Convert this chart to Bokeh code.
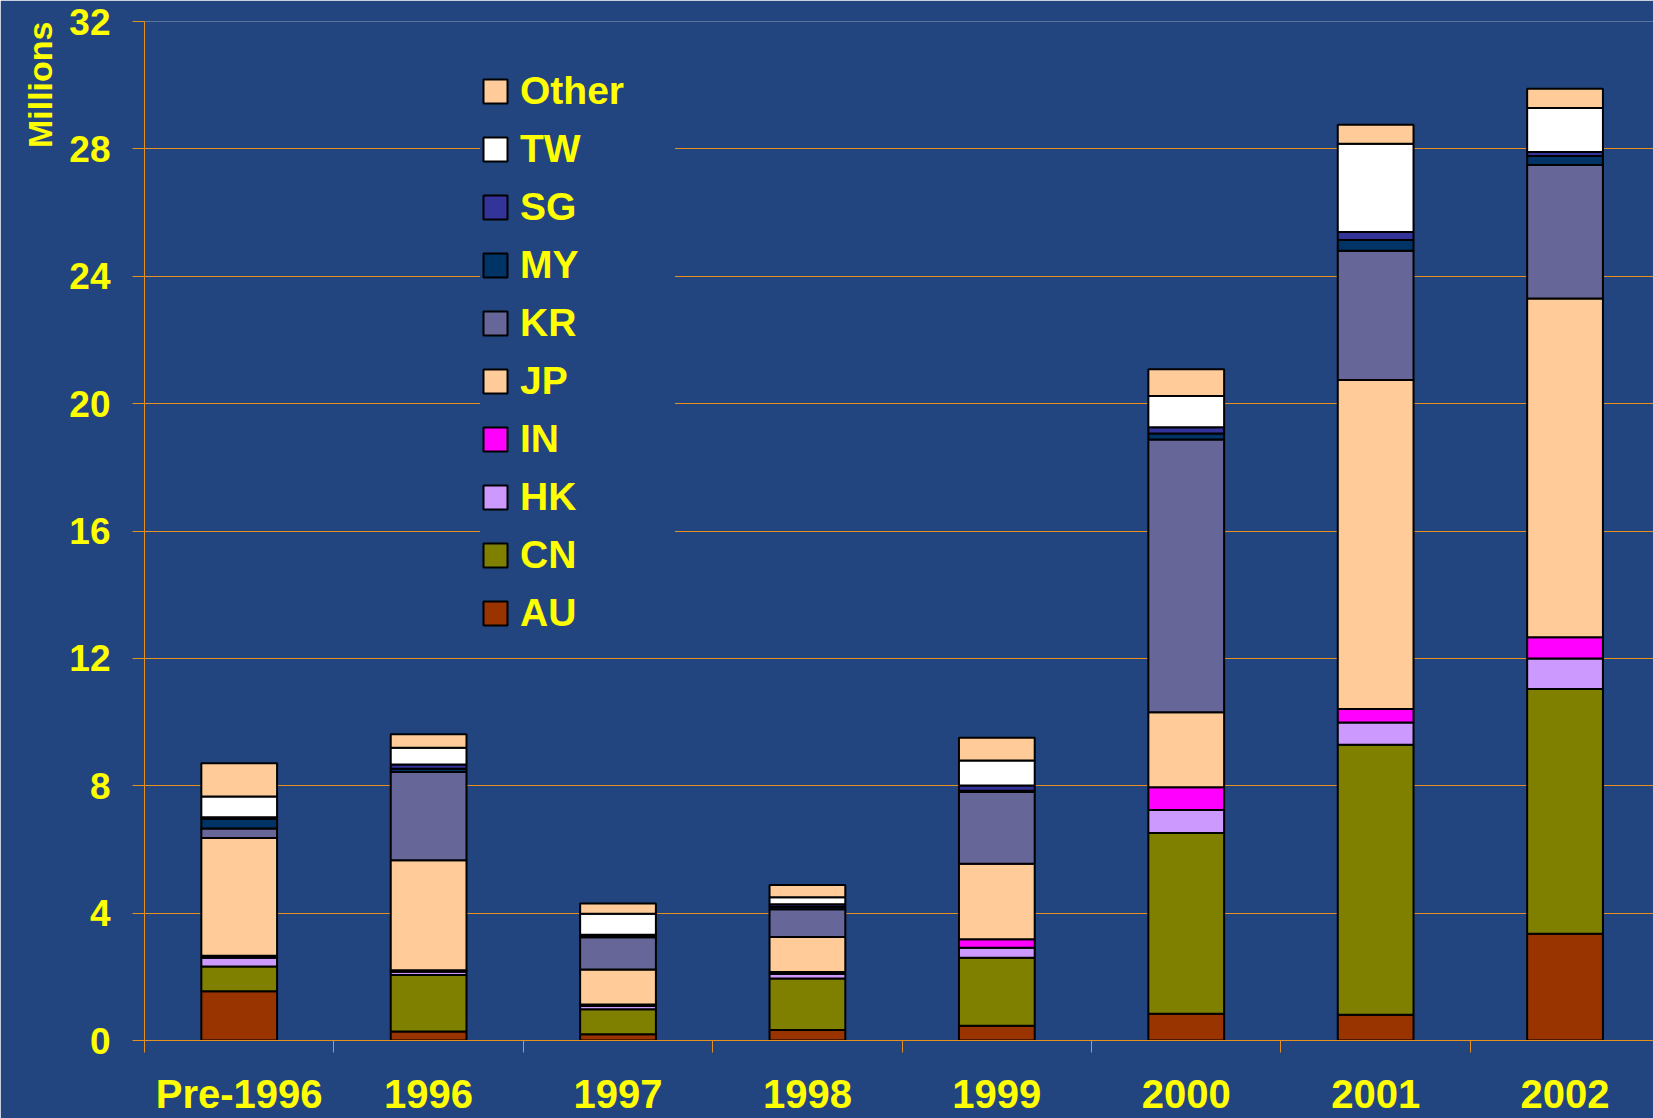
from bokeh.plotting import figure
from bokeh.models import Range1d, FixedTicker, Legend, LegendItem, Title, ColumnDataSource
from bokeh.embed import file_html
from bokeh.resources import INLINE

# ---- data (millions) ----
categories = ["Pre-1996", "1996", "1997", "1998", "1999", "2000", "2001", "2002"]
AU = [1.55, 0.28, 0.20, 0.33, 0.46, 0.84, 0.81, 3.35]
CN = [0.77, 1.78, 0.78, 1.62, 2.14, 5.68, 8.48, 7.69]
HK = [0.28, 0.10, 0.10, 0.14, 0.31, 0.72, 0.70, 0.96]
IN = [0.06, 0.05, 0.05, 0.06, 0.27, 0.71, 0.42, 0.66]
JP = [3.70, 3.45, 1.10, 1.10, 2.37, 2.36, 10.33, 10.64]
KR = [0.30, 2.77, 1.01, 0.87, 2.25, 8.56, 4.06, 4.19]
MY = [0.30, 0.10, 0.04, 0.08, 0.04, 0.19, 0.34, 0.29]
SG = [0.05, 0.14, 0.04, 0.08, 0.17, 0.20, 0.25, 0.12]
TW = [0.65, 0.52, 0.66, 0.22, 0.78, 0.98, 2.77, 1.38]
Other = [1.05, 0.43, 0.32, 0.38, 0.72, 0.84, 0.60, 0.61]

series_names = ["AU", "CN", "HK", "IN", "JP", "KR", "MY", "SG", "TW", "Other"]
series_values = [AU, CN, HK, IN, JP, KR, MY, SG, TW, Other]
series_colors = ["#993300", "#808000", "#CC99FF", "#FF00FF", "#FFCC99",
                 "#666699", "#003366", "#333399", "#FFFFFF", "#FFCC99"]
y_ticks = list(range(0, 33, 4))

BG = "#22447F"
YELLOW = "#FFFF00"
ORANGE = "#E8901E"
FONT = "Liberation Sans"

xs = list(range(len(categories)))
data = {"x": xs}
for n, v in zip(series_names, series_values):
    data[n] = v
src = ColumnDataSource(data)

p = figure(width=1653, height=1118, output_backend="svg", toolbar_location=None,
           x_range=Range1d(-0.5, 7.467), y_range=Range1d(0, 32),
           min_border_left=144, min_border_right=0, min_border_top=21, min_border_bottom=78)
p.background_fill_color = BG
p.border_fill_color = BG
p.outline_line_color = None

renderers = p.vbar_stack(series_names, x="x", width=0.4, source=src,
                         fill_color=series_colors, line_color="black", line_width=2)

# y axis
p.yaxis.ticker = FixedTicker(ticks=y_ticks)
p.yaxis.axis_line_color = ORANGE
p.yaxis.major_tick_line_color = ORANGE
p.yaxis.major_tick_out = 12
p.yaxis.major_tick_in = 0
p.yaxis.minor_tick_line_color = None
p.yaxis.major_label_standoff = 22
p.yaxis.major_label_text_color = YELLOW
p.yaxis.major_label_text_font = FONT
p.yaxis.major_label_text_font_style = "bold"
p.yaxis.major_label_text_font_size = "37px"

# "Millions" at the top of the value axis
p.add_layout(Title(text="Millions", align="right", text_color=YELLOW, text_font=FONT,
                   text_font_style="bold", text_font_size="34px", standoff=15), "left")

# x axis: labels at category centres, tick marks at category boundaries
p.xaxis.ticker = FixedTicker(ticks=xs, minor_ticks=[i - 0.5 for i in range(len(categories) + 1)])
p.xaxis.major_label_overrides = {i: c for i, c in enumerate(categories)}
p.xaxis.axis_line_color = ORANGE
p.xaxis.major_tick_line_color = None
p.xaxis.major_tick_out = 0
p.xaxis.major_tick_in = 0
p.xaxis.minor_tick_line_color = ORANGE
p.xaxis.minor_tick_out = 12
p.xaxis.minor_tick_in = 0
p.xaxis.major_label_standoff = 19
p.xaxis.major_label_text_color = YELLOW
p.xaxis.major_label_text_font = FONT
p.xaxis.major_label_text_font_style = "bold"
p.xaxis.major_label_text_font_size = "40px"

p.xgrid.visible = False
p.ygrid.ticker = FixedTicker(ticks=y_ticks)
p.ygrid.grid_line_color = ORANGE
p.ygrid.grid_line_width = 1

items = [LegendItem(label=n, renderers=[r]) for n, r in zip(series_names, renderers)][::-1]
legend = Legend(items=items, location=(336, 405), orientation="vertical",
                glyph_width=30, glyph_height=30, label_standoff=10, label_height=44,
                label_width=155, spacing=14, padding=15, margin=0,
                label_text_font=FONT, label_text_font_style="bold",
                label_text_font_size="39px", label_text_color=YELLOW,
                border_line_color=None, background_fill_color=BG, background_fill_alpha=1.0)
p.add_layout(legend, "center")

open("out.html", "w").write(file_html(p, INLINE))
